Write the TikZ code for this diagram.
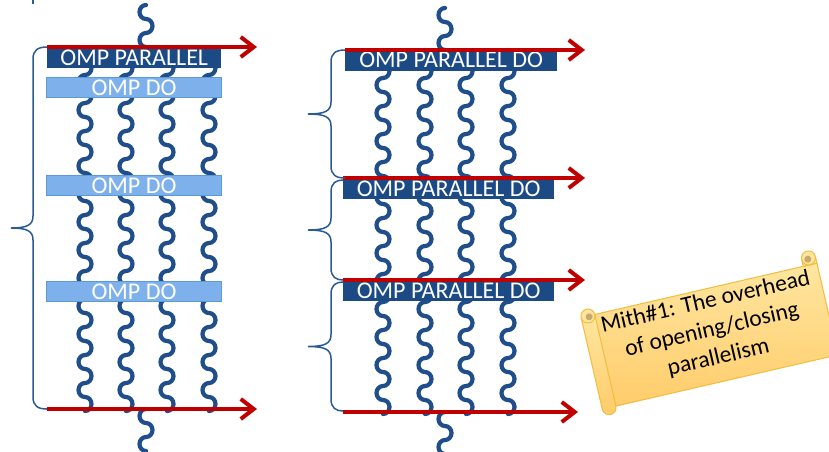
\documentclass[tikz,border=0pt]{standalone}
\usepackage{fontspec}
\setmainfont{Carlito}
\usetikzlibrary{arrows.meta}
\definecolor{dkblue}{HTML}{1C4A85}
\definecolor{thrcol}{HTML}{1F4E8A}
\definecolor{ltblue}{HTML}{7EB0EC}
\definecolor{ltborder}{HTML}{5B9BD5}
\definecolor{arrred}{HTML}{C00000}
\definecolor{bracecol}{HTML}{2A5A94}
\definecolor{scrolltop}{HTML}{FFE6A0}
\definecolor{scrollbot}{HTML}{FFCC6A}
\definecolor{scrollline}{HTML}{F2BC3E}
\definecolor{dotcol}{HTML}{C9A96B}
\tikzset{
  thread/.style={draw=thrcol, line width=4.2pt, line cap=round},
  darkbox/.style={fill=dkblue, draw=none, inner sep=0pt, anchor=north west, text=white, font=\fontsize{24}{28}\selectfont},
  lightbox/.style={fill=ltblue, draw=ltborder, line width=1pt, inner sep=0pt, anchor=north west, text=white, font=\fontsize{24}{28}\selectfont},
  redarrow/.style={draw=arrred, line width=4pt, -{Straight Barb[length=13pt,width=20pt]}},
  bracestyle/.style={draw=bracecol, line width=1.5pt},
  scrollpart/.style={draw=scrollline, line width=1pt}
}
% x, start y, number of half waves
\newcommand\wthread[3]{\draw[thread] (#1,#2) \foreach \i in {1,...,#3} { arc[start angle=90, end angle={90-180*(1-2*mod(\i,2))}, x radius=6.5pt, y radius=7pt] };}
\newcommand\cbrace[5]{%
\draw[bracestyle] (#1,#4) .. controls ({#2+5},#4) and (#2,{#4+3}) .. (#2,{#4+12})
  -- (#2,{(#4+#5)/2-12}) .. controls (#2,{(#4+#5)/2-3}) and ({#2-6},{(#4+#5)/2}) .. (#3,{(#4+#5)/2})
  .. controls ({#2-6},{(#4+#5)/2}) and (#2,{(#4+#5)/2+3}) .. (#2,{(#4+#5)/2+12})
  -- (#2,{#5-12}) .. controls (#2,{#5-3}) and ({#2+5},#5) .. (#1,#5);}
\begin{document}
\begin{tikzpicture}[x=1pt,y=-1pt]
\useasboundingbox (0,0) rectangle (829,451);
\fill[white] (0,0) rectangle (829,451);
% tiny mark at top left
\draw[bracestyle] (33,0) -- (33,4);
% ---------------- left diagram ----------------
\wthread{146}{5}{3}
\foreach \cx in {85,126,167,209} {\wthread{\cx}{47}{26}}
\wthread{146}{409}{3}
\node[darkbox, minimum width=174pt, minimum height=21pt] (par) at (47,47) {OMP PARALLEL};
\node[lightbox, minimum width=175pt, minimum height=20pt] (do1) at (46,77) {OMP DO};
\node[lightbox, minimum width=175pt, minimum height=20pt] (do2) at (46,175) {OMP DO};
\node[lightbox, minimum width=175pt, minimum height=20pt] (do3) at (46,281) {OMP DO};
\coordinate (la1) at (47,47); \coordinate (la1e) at (257,47);
\coordinate (la2) at (47,409); \coordinate (la2e) at (257,409);
\draw[redarrow] (la1) -- (la1e);
\draw[redarrow] (la2) -- (la2e);
\cbrace{47}{33}{11}{47}{409}
% ---------------- right diagram ----------------
\wthread{445}{8}{3}
\foreach \cx in {383,425,466,508} {\wthread{\cx}{50}{26}}
\wthread{445}{412}{3}
\node[darkbox, minimum width=212pt, minimum height=22pt] (pd1) at (345,49) {OMP PARALLEL DO};
\node[darkbox, minimum width=211pt, minimum height=21pt] (pd2) at (343,178) {OMP PARALLEL DO};
\node[darkbox, minimum width=211pt, minimum height=21pt] (pd3) at (343,280) {OMP PARALLEL DO};
\coordinate (ra1) at (345,50); \coordinate (ra1e) at (585,50);
\coordinate (ra2) at (343,178); \coordinate (ra2e) at (585,178);
\coordinate (ra3) at (343,280); \coordinate (ra3e) at (585,280);
\coordinate (ra4) at (343,412); \coordinate (ra4e) at (578,412);
\draw[redarrow] (ra1) -- (ra1e);
\draw[redarrow] (ra2) -- (ra2e);
\draw[redarrow] (ra3) -- (ra3e);
\draw[redarrow] (ra4) -- (ra4e);
\cbrace{345}{331}{308}{50}{178}
\cbrace{343}{331}{308}{180}{280}
\cbrace{343}{331}{308}{282}{411}
% ---------------- scroll ----------------
\begin{scope}[shift={(709.6,336.2)}, y={(0pt,1pt)}, rotate=13]
  \shade[top color=scrolltop, bottom color=scrollbot, scrollpart] (-114,-47) rectangle (121,47);
  \filldraw[fill=scrolltop, scrollpart] (107,47) rectangle (121,54);
  \filldraw[fill=scrolltop, scrollpart] (114,54) circle (7pt);
  \fill[dotcol] (113,53) circle (3.5pt);
  \shade[top color=scrolltop, bottom color=scrollbot, scrollpart] (-121,47) -- (-121,-47) arc[start angle=180, end angle=360, radius=7pt] -- (-107,47) -- cycle;
  \filldraw[fill=scrolltop, scrollpart] (-114,47) circle (7pt);
  \fill[dotcol] (-113,46) circle (3.5pt);
  \node[transform shape, align=center, text=black, font=\fontsize{23.5}{28.5}\selectfont] (myth) at (3.7,5.3) {Mith\#1: The overhead\\of opening/closing\\parallelism};
\end{scope}
\end{tikzpicture}
\end{document}
